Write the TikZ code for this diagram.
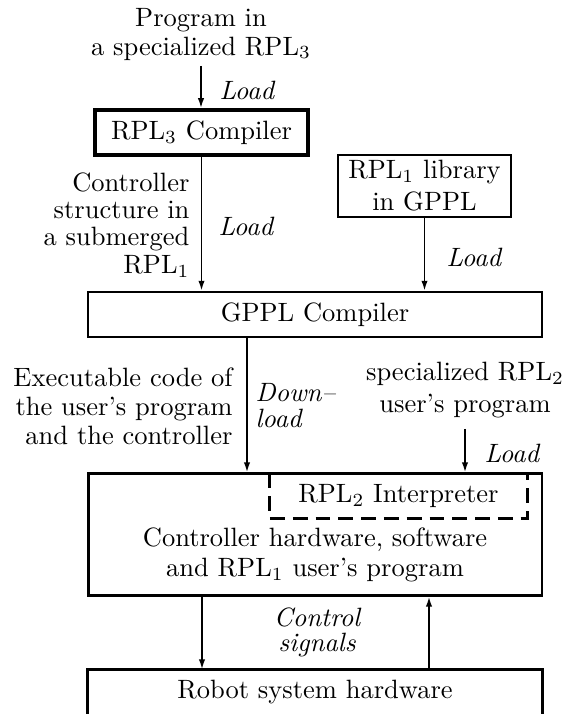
\documentclass[tikz,border=0pt]{standalone}
\usetikzlibrary{arrows.meta}
\begin{document}
\begin{tikzpicture}[x=0.3774pt,y=-0.3774pt,
  box/.style={draw,line width=0.85pt,inner sep=0pt,align=center},
  arr/.style={-{Latex[length=3.8pt,width=2.4pt]},line width=0.7pt},
  lbl/.style={inner sep=0pt,font=\itshape},
  txt/.style={inner sep=0pt}]
\useasboundingbox (0,0) rectangle (576,714);

% top program text
\node[txt,align=center,font=\fontsize{10}{10.6}\selectfont] (prog) at (201,34.5) {Program in\\a specialized RPL$_3$};
\node[lbl,anchor=west] (load1) at (219,90) {Load};

% RPL3 compiler
\node[box,line width=1.25pt,minimum width=80.4pt,minimum height=17pt] (rpl3) at (201.5,132.5) {RPL$_3$ Compiler};

% controller structure text
\node[txt,align=right,anchor=east,font=\fontsize{10}{10.3}\selectfont] (cstruct) at (190,225) {Controller\\structure in\\a submerged\\RPL$_1$};
\node[lbl,anchor=west] (load2) at (218,226) {Load};

% RPL1 library
\node[box,minimum width=65.3pt,minimum height=23.4pt,font=\fontsize{10}{12}\selectfont] (rpl1) at (424.5,186) {RPL$_1$ library\\in GPPL};
\node[lbl,anchor=west] (load3) at (446,257) {Load};

% GPPL compiler
\node[box,minimum width=171.3pt,minimum height=17pt] (gppl) at (315,314.5) {GPPL Compiler};

% executable code text
\node[txt,align=right,anchor=east,font=\fontsize{10}{10.9}\selectfont] (exec) at (233,406) {Executable code of\\the user's program\\and the controller};
\node[lbl,anchor=west,align=left,font=\itshape\fontsize{10}{9.8}\selectfont] (down) at (255,406) {Down--\\load};

% specialized RPL2 text
\node[txt,align=center,font=\fontsize{10}{12}\selectfont] (spec) at (465,390) {specialized RPL$_2$\\user's program};
\node[lbl,anchor=west] (load4) at (484,453) {Load};

% controller box
\node[box,line width=1.1pt,minimum width=171.3pt,minimum height=45.7pt] (ctrl) at (315,534.5) {};
\node[txt,inner sep=0pt,minimum width=97pt,minimum height=16.6pt] (interp) at (398.5,496) {RPL$_2$ Interpreter};
\draw[line width=0.9pt,dash pattern=on 5.6pt off 3pt] (interp.north west) -- (interp.south west) -- (interp.south east) -- (interp.north east);
\node[txt,align=center,font=\fontsize{10}{11.3}\selectfont] (ctrltext) at (315,555) {Controller hardware, software\\and RPL$_1$ user's program};

% control signals
\node[lbl,align=center,font=\itshape\fontsize{10}{9.4}\selectfont] (sig) at (317,632) {Control\\signals};

% robot box (bottom edge cut off)
\node[txt,minimum width=171.3pt,minimum height=16.6pt] (robot) at (315,692) {Robot system hardware};
\draw[line width=0.85pt] (robot.south west) -- (robot.north west) -- (robot.north east) -- (robot.south east);

% connectors
\coordinate (xdl) at (247,0);
\coordinate (xcs) at (202,0);
\coordinate (xfb) at (429,0);
\draw[arr,shorten <=2pt] (prog.south) -- (prog.south |- rpl3.north);
\draw[arr] (rpl3.south) -- (rpl3.south |- gppl.north);
\draw[arr] (rpl1.south) -- (rpl1.south |- gppl.north);
\draw[arr] (gppl.south -| xdl) -- (ctrl.north -| xdl);
\draw[arr,shorten <=4pt] (spec.south) -- (spec.south |- ctrl.north);
\draw[arr] (ctrl.south -| xcs) -- (robot.north -| xcs);
\draw[arr] (robot.north -| xfb) -- (ctrl.south -| xfb);
\end{tikzpicture}
\end{document}
